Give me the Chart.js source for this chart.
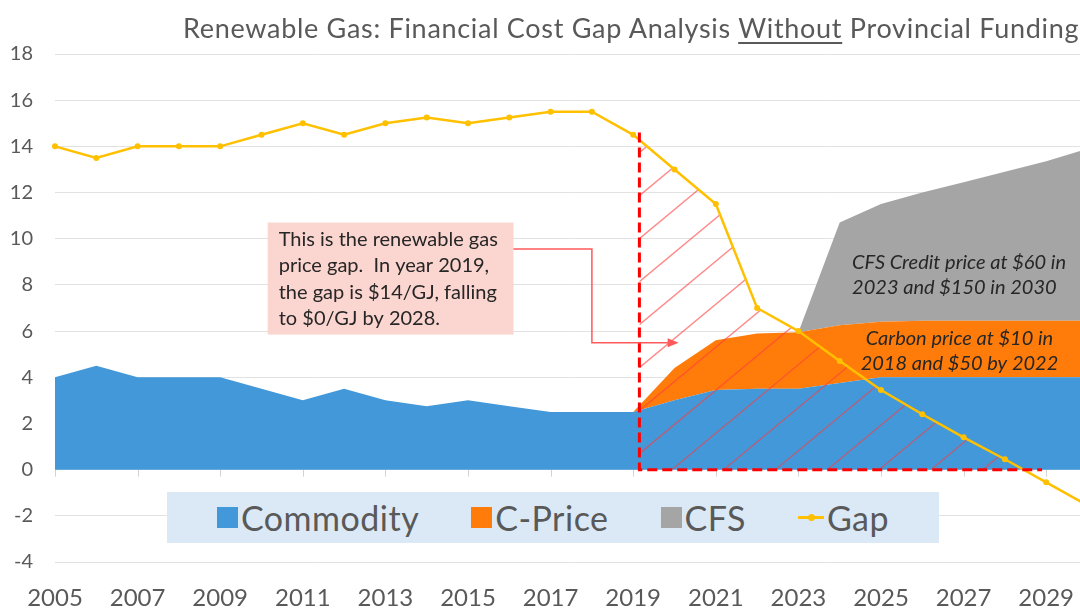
<!DOCTYPE html>
<html>
<head>
<meta charset="utf-8">
<title>Renewable Gas: Financial Cost Gap Analysis</title>
<script src="https://cdn.jsdelivr.net/npm/chart.js@4.4.1/dist/chart.umd.min.js"></script>
<style>
  html, body { margin: 0; padding: 0; background: #fff; overflow: hidden; }
  #wrap { position: relative; width: 1080px; height: 610px; overflow: hidden; font-family: Lato, "Open Sans", sans-serif; }
  #chart { position: absolute; left: 0; top: 0; }
  #title { position: absolute; left: 183px; top: 12px; white-space: nowrap; font-size: 27px; letter-spacing: 0.7px;
           line-height: 32px; color: #595959; }
  #title u { text-decoration-thickness: 1.5px; text-underline-offset: 4px; }
  #legend { position: absolute; left: 167px; top: 492px; width: 772px; height: 51px; background: #dbe9f6;
            display: flex; align-items: center; justify-content: center; gap: 52px; font-size: 34px;
            letter-spacing: 0.5px; color: #595959; }
  #legend .item { display: flex; align-items: center; gap: 3px; }
  #legend .box { width: 21px; height: 21px; }
  #legend .ln { width: 26px; height: 3px; position: relative; }
  #legend .ln i { position: absolute; left: 10px; top: -2px; width: 7px; height: 7px; border-radius: 50%; }
</style>
</head>
<body>
<div id="wrap">
  <canvas id="chart" width="1260" height="610"></canvas>
  <div id="title">Renewable Gas: Financial Cost Gap Analysis <u>Without</u> Provincial Funding</div>
  <div id="legend"></div>
</div>
<script>
// values ($/GJ)
var years = ['2005','2006','2007','2008','2009','2010','2011','2012','2013','2014','2015','2016','2017',
             '2018','2019','2020','2021','2022','2023','2024','2025','2026','2027','2028','2029','2030'];
var commodity = [4.0, 4.5, 4.0, 4.0, 4.0, 3.5, 3.0, 3.5, 3.0, 2.75, 3.0, 2.75, 2.5,
                 2.5, 2.5, 3.0, 3.45, 3.5, 3.5, 3.75, 4.0, 4.0, 4.0, 4.0, 4.0, 4.0];
var cPrice    = [0, 0, 0, 0, 0, 0, 0, 0, 0, 0, 0, 0, 0,
                 0, 0, 1.4, 2.15, 2.4, 2.45, 2.5, 2.4, 2.45, 2.45, 2.45, 2.45, 2.45];
var cfs       = [0, 0, 0, 0, 0, 0, 0, 0, 0, 0, 0, 0, 0,
                 0, 0, 0, 0, 0, 0, 4.45, 5.1, 5.55, 6.0, 6.45, 6.9, 7.45];
var gap       = [14.0, 13.5, 14.0, 14.0, 14.0, 14.5, 15.0, 14.5, 15.0, 15.25, 15.0, 15.25, 15.5,
                 15.5, 14.5, 13.0, 11.5, 7.0, 6.0, 4.7, 3.45, 2.4, 1.4, 0.45, -0.55, -1.55];
var yMin = -4, yMax = 18, yStep = 2;

var gapNote    = ['This is the renewable gas', 'price gap.  In year 2019,', 'the gap is $14/GJ, falling', 'to $0/GJ by 2028.'];
var cfsNote    = ['CFS Credit price at $60 in', '2023 and $150 in 2030'];
var carbonNote = ['Carbon price at $10 in', '2018 and $50 by 2022'];

var BLUE = '#4298d8', ORANGE = '#ff7c0a', GREY = '#a5a5a5', GOLD = '#ffc000';

Chart.defaults.font.family = 'Lato, "Open Sans", sans-serif';
Chart.defaults.color = '#595959';

// year (can be fractional) -> pixel
function px(chart, yr) { return chart.scales.x.getPixelForValue(yr - Number(years[0])); }
function py(chart, v) { return chart.scales.y.getPixelForValue(v); }

// small tick marks hanging under the zero line
var zeroTicks = {
  id: 'zeroTicks',
  beforeDatasetsDraw: function(chart) {
    var ctx = chart.ctx, y0 = py(chart, 0);
    ctx.save();
    ctx.strokeStyle = '#d4d4d4';
    ctx.lineWidth = 1;
    ctx.beginPath();
    for (var i = 0; i < years.length; i += 2) {
      var x = Math.round(chart.scales.x.getPixelForValue(i)) + 0.5;
      ctx.moveTo(x, y0);
      ctx.lineTo(x, y0 + 7);
    }
    ctx.stroke();
    ctx.restore();
  }
};

// red diagonal hatching under the gap curve, drawn just before the gap line
var gapHatch = {
  id: 'gapHatch',
  beforeDatasetDraw: function(chart, args) {
    if (chart.data.datasets[args.index].label !== 'Gap') return;
    var ctx = chart.ctx, a = chart.chartArea, pts = args.meta.data;
    var i0 = years.indexOf('2019');
    var xL = px(chart, 2019.15), y0 = py(chart, 0);
    ctx.save();
    ctx.beginPath();
    ctx.rect(xL, a.top, a.right - xL, y0 - a.top);
    ctx.clip();
    ctx.beginPath();
    ctx.moveTo(pts[i0].x, y0);
    for (var i = i0; i < pts.length; i++) ctx.lineTo(pts[i].x, pts[i].y);
    ctx.lineTo(pts[pts.length - 1].x, y0);
    ctx.closePath();
    ctx.clip();
    var s = 0.83, sp = 43, w = a.right - xL;
    ctx.strokeStyle = 'rgba(255,60,60,0.6)';
    ctx.lineWidth = 1.3;
    ctx.beginPath();
    for (var c = y0 - 16 - sp * Math.ceil((y0 - a.top) / sp); c < y0 + s * w; c += sp) {
      ctx.moveTo(xL, c);
      ctx.lineTo(a.right, c - s * w);
    }
    ctx.stroke();
    ctx.restore();
  }
};

// dashed box, note with arrow, and the two italic labels
var notes = {
  id: 'notes',
  afterDatasetsDraw: function(chart) {
    var ctx = chart.ctx;
    ctx.save();

    // dashed red frame of the 2019-2028 gap
    ctx.strokeStyle = '#ff0000';
    ctx.lineWidth = 3;
    ctx.setLineDash([10, 5]);
    ctx.beginPath();
    ctx.moveTo(px(chart, 2019.15), py(chart, 14.6));
    ctx.lineTo(px(chart, 2019.15), py(chart, 0));
    ctx.lineTo(px(chart, 2028.9), py(chart, 0));
    ctx.stroke();
    ctx.setLineDash([]);

    // pink note box
    var bx0 = px(chart, 2010.15), bx1 = px(chart, 2016.1), by0 = py(chart, 10.7), by1 = py(chart, 5.85);
    ctx.fillStyle = '#fbd5cf';
    ctx.fillRect(bx0, by0, bx1 - bx0, by1 - by0);
    ctx.fillStyle = '#262626';
    ctx.font = '20px Lato, "Open Sans", sans-serif';
    ctx.textAlign = 'left';
    ctx.textBaseline = 'middle';
    gapNote.forEach(function(t, i) { ctx.fillText(t, bx0 + 11, by0 + 17 + i * 26.3); });

    // elbow connector with arrow
    var cx = px(chart, 2018.0), ya = py(chart, 9.55), yb = py(chart, 5.5), tip = px(chart, 2020.1);
    ctx.strokeStyle = '#ff5a5a';
    ctx.fillStyle = '#ff5a5a';
    ctx.lineWidth = 1.5;
    ctx.beginPath();
    ctx.moveTo(bx1, ya);
    ctx.lineTo(cx, ya);
    ctx.lineTo(cx, yb);
    ctx.lineTo(tip - 9, yb);
    ctx.stroke();
    ctx.beginPath();
    ctx.moveTo(tip, yb);
    ctx.lineTo(tip - 11, yb - 4.5);
    ctx.lineTo(tip - 11, yb + 4.5);
    ctx.closePath();
    ctx.fill();

    // italic labels on the stacked areas
    ctx.font = 'italic 20px Lato, "Open Sans", sans-serif';
    ctx.fillStyle = '#262626';
    ctx.textAlign = 'left';
    cfsNote.forEach(function(t, i) { ctx.fillText(t, px(chart, 2024.3), py(chart, 8.96 - i * 1.08)); });
    ctx.textAlign = 'center';
    carbonNote.forEach(function(t, i) { ctx.fillText(t, px(chart, 2026.9), py(chart, 5.69 - i * 1.08)); });

    ctx.restore();
  }
};

var chart = new Chart(document.getElementById('chart').getContext('2d'), {
  type: 'line',
  data: {
    labels: years,
    datasets: [
      { label: 'Commodity', data: commodity, backgroundColor: BLUE, borderColor: BLUE, borderWidth: 0,
        fill: 'origin', pointRadius: 0, stack: 'cost' },
      { label: 'C-Price', data: cPrice, backgroundColor: ORANGE, borderColor: ORANGE, borderWidth: 0,
        fill: '-1', pointRadius: 0, stack: 'cost' },
      { label: 'CFS', data: cfs, backgroundColor: GREY, borderColor: GREY, borderWidth: 0,
        fill: '-1', pointRadius: 0, stack: 'cost' },
      { label: 'Gap', data: gap, borderColor: GOLD, backgroundColor: GOLD, borderWidth: 2.5,
        fill: false, pointRadius: 3, pointBorderWidth: 0, pointBackgroundColor: GOLD,
        stack: 'gap', order: -1 }
    ]
  },
  options: {
    responsive: false,
    animation: false,
    layout: { padding: { top: 54, right: 172.5, bottom: 0, left: 0 } },
    plugins: { legend: { display: false }, title: { display: false }, tooltip: { enabled: false } },
    elements: { line: { tension: 0 } },
    scales: {
      x: {
        offset: false,
        grid: { display: false, drawTicks: false },
        border: { display: false },
        ticks: {
          autoSkip: false, maxRotation: 0, padding: 22, color: '#595959', font: { size: 24 },
          callback: function(v, i) { return i % 2 === 0 ? years[i] : ''; }
        },
        afterFit: function(s) { s.height = 48; }
      },
      y: {
        stacked: true,
        min: yMin, max: yMax,
        grid: { color: '#e2e2e2', drawTicks: false },
        border: { display: false },
        ticks: { stepSize: yStep, padding: 22, color: '#595959', font: { size: 20 } },
        afterFit: function(s) { s.width = 55; }
      }
    }
  },
  plugins: [zeroTicks, gapHatch, notes]
});

// legend strip built from the datasets
var legend = document.getElementById('legend');
chart.data.datasets.forEach(function(ds) {
  var item = document.createElement('div');
  item.className = 'item';
  var mark = document.createElement('span');
  if (ds.fill === false) {
    mark.className = 'ln';
    mark.style.background = ds.borderColor;
    var dot = document.createElement('i');
    dot.style.background = ds.borderColor;
    mark.appendChild(dot);
  } else {
    mark.className = 'box';
    mark.style.background = ds.backgroundColor;
  }
  item.appendChild(mark);
  item.appendChild(document.createTextNode(ds.label));
  legend.appendChild(item);
});
</script>
</body>
</html>
